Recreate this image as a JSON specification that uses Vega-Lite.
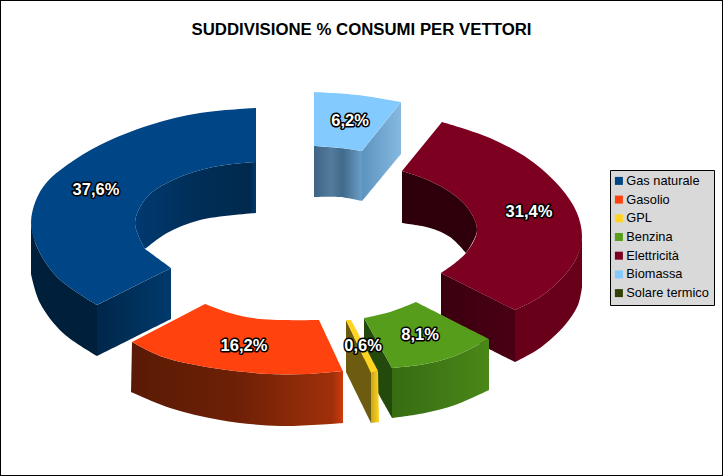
{"$schema":"https://vega.github.io/schema/vega-lite/v6.json","width":723,"height":476,"autosize":{"type":"none"},"padding":0,"background":"#ffffff","title":{"text":"SUDDIVISIONE % CONSUMI PER VETTORI","orient":"top","anchor":"middle","offset":-39,"font":"Liberation Sans","fontSize":16.8,"fontWeight":"bold","color":"#000000"},"config":{"view":{"stroke":"#000000","strokeWidth":2}},"datasets":{"outline":[
{"p":"a_in","i":1,"x":314,"y":146},{"p":"a_in","i":2,"x":314,"y":146},{"p":"a_in","i":3,"x":340,"y":148},{"p":"a_in","i":4,"x":362,"y":151},{"p":"a_in","i":5,"x":362,"y":151},{"p":"a_in","i":6,"x":362,"y":201},{"p":"a_in","i":7,"x":362,"y":201},{"p":"a_in","i":8,"x":340,"y":197},{"p":"a_in","i":9,"x":314,"y":197},{"p":"a_in","i":10,"x":314,"y":197},
{"p":"a_cut","i":1,"x":401,"y":102},{"p":"a_cut","i":2,"x":401,"y":102},{"p":"a_cut","i":3,"x":362,"y":151},{"p":"a_cut","i":4,"x":362,"y":151},{"p":"a_cut","i":5,"x":362,"y":201},{"p":"a_cut","i":6,"x":362,"y":201},{"p":"a_cut","i":7,"x":401,"y":154},{"p":"a_cut","i":8,"x":401,"y":154},
{"p":"a_top","i":1,"x":314,"y":92},{"p":"a_top","i":2,"x":314,"y":92},{"p":"a_top","i":3,"x":357,"y":95},{"p":"a_top","i":4,"x":401,"y":102},{"p":"a_top","i":5,"x":401,"y":102},{"p":"a_top","i":6,"x":362,"y":151},{"p":"a_top","i":7,"x":362,"y":151},{"p":"a_top","i":8,"x":340,"y":148},{"p":"a_top","i":9,"x":314,"y":146},{"p":"a_top","i":10,"x":314,"y":146},
{"p":"w_in","i":1,"x":402,"y":171},{"p":"w_in","i":2,"x":402,"y":171},{"p":"w_in","i":3,"x":423,"y":178},{"p":"w_in","i":4,"x":447,"y":190},{"p":"w_in","i":5,"x":467,"y":207},{"p":"w_in","i":6,"x":477,"y":230},{"p":"w_in","i":7,"x":466,"y":253},{"p":"w_in","i":8,"x":466,"y":253},{"p":"w_in","i":9,"x":450,"y":237},{"p":"w_in","i":10,"x":430,"y":228},{"p":"w_in","i":11,"x":402,"y":223},{"p":"w_in","i":12,"x":402,"y":223},
{"p":"w_out","i":1,"x":582,"y":237},{"p":"w_out","i":2,"x":582,"y":237},{"p":"w_out","i":3,"x":577,"y":257},{"p":"w_out","i":4,"x":563,"y":277},{"p":"w_out","i":5,"x":540,"y":297},{"p":"w_out","i":6,"x":515,"y":310},{"p":"w_out","i":7,"x":515,"y":310},{"p":"w_out","i":8,"x":515,"y":362},{"p":"w_out","i":9,"x":515,"y":362},{"p":"w_out","i":10,"x":540,"y":348},{"p":"w_out","i":11,"x":565,"y":325},{"p":"w_out","i":12,"x":578,"y":305},{"p":"w_out","i":13,"x":582,"y":287},{"p":"w_out","i":14,"x":582,"y":287},
{"p":"w_cut","i":1,"x":441,"y":273},{"p":"w_cut","i":2,"x":441,"y":273},{"p":"w_cut","i":3,"x":515,"y":310},{"p":"w_cut","i":4,"x":515,"y":310},{"p":"w_cut","i":5,"x":515,"y":362},{"p":"w_cut","i":6,"x":515,"y":362},{"p":"w_cut","i":7,"x":441,"y":325},{"p":"w_cut","i":8,"x":441,"y":325},
{"p":"w_top","i":1,"x":442,"y":122},{"p":"w_top","i":2,"x":442,"y":122},{"p":"w_top","i":3,"x":490,"y":138},{"p":"w_top","i":4,"x":530,"y":160},{"p":"w_top","i":5,"x":560,"y":187},{"p":"w_top","i":6,"x":577,"y":213},{"p":"w_top","i":7,"x":582,"y":237},{"p":"w_top","i":8,"x":577,"y":257},{"p":"w_top","i":9,"x":563,"y":277},{"p":"w_top","i":10,"x":540,"y":297},{"p":"w_top","i":11,"x":515,"y":310},{"p":"w_top","i":12,"x":515,"y":310},{"p":"w_top","i":13,"x":441,"y":273},{"p":"w_top","i":14,"x":441,"y":273},{"p":"w_top","i":15,"x":466,"y":253},{"p":"w_top","i":16,"x":477,"y":230},{"p":"w_top","i":17,"x":467,"y":207},{"p":"w_top","i":18,"x":447,"y":190},{"p":"w_top","i":19,"x":423,"y":178},{"p":"w_top","i":20,"x":402,"y":171},{"p":"w_top","i":21,"x":402,"y":171},
{"p":"b_in","i":1,"x":256,"y":162},{"p":"b_in","i":2,"x":256,"y":162},{"p":"b_in","i":3,"x":213,"y":167},{"p":"b_in","i":4,"x":173,"y":180},{"p":"b_in","i":5,"x":147,"y":197},{"p":"b_in","i":6,"x":135,"y":223},{"p":"b_in","i":7,"x":145,"y":249},{"p":"b_in","i":8,"x":145,"y":249},{"p":"b_in","i":9,"x":167,"y":233},{"p":"b_in","i":10,"x":200,"y":220},{"p":"b_in","i":11,"x":256,"y":213},{"p":"b_in","i":12,"x":256,"y":213},
{"p":"b_out","i":1,"x":31,"y":223},{"p":"b_out","i":2,"x":31,"y":223},{"p":"b_out","i":3,"x":37,"y":247},{"p":"b_out","i":4,"x":57,"y":277},{"p":"b_out","i":5,"x":97,"y":305},{"p":"b_out","i":6,"x":97,"y":305},{"p":"b_out","i":7,"x":97,"y":356},{"p":"b_out","i":8,"x":97,"y":356},{"p":"b_out","i":9,"x":63,"y":333},{"p":"b_out","i":10,"x":40,"y":303},{"p":"b_out","i":11,"x":31,"y":274},{"p":"b_out","i":12,"x":31,"y":274},
{"p":"b_cut","i":1,"x":97,"y":305},{"p":"b_cut","i":2,"x":97,"y":305},{"p":"b_cut","i":3,"x":171,"y":268},{"p":"b_cut","i":4,"x":171,"y":268},{"p":"b_cut","i":5,"x":171,"y":319},{"p":"b_cut","i":6,"x":171,"y":319},{"p":"b_cut","i":7,"x":97,"y":356},{"p":"b_cut","i":8,"x":97,"y":356},
{"p":"b_top","i":1,"x":256,"y":108},{"p":"b_top","i":2,"x":256,"y":108},{"p":"b_top","i":3,"x":200,"y":113},{"p":"b_top","i":4,"x":150,"y":125},{"p":"b_top","i":5,"x":100,"y":145},{"p":"b_top","i":6,"x":67,"y":165},{"p":"b_top","i":7,"x":47,"y":182},{"p":"b_top","i":8,"x":36,"y":200},{"p":"b_top","i":9,"x":31,"y":223},{"p":"b_top","i":10,"x":37,"y":247},{"p":"b_top","i":11,"x":57,"y":277},{"p":"b_top","i":12,"x":97,"y":305},{"p":"b_top","i":13,"x":97,"y":305},{"p":"b_top","i":14,"x":171,"y":268},{"p":"b_top","i":15,"x":171,"y":268},{"p":"b_top","i":16,"x":145,"y":249},{"p":"b_top","i":17,"x":145,"y":249},{"p":"b_top","i":18,"x":135,"y":223},{"p":"b_top","i":19,"x":147,"y":197},{"p":"b_top","i":20,"x":173,"y":180},{"p":"b_top","i":21,"x":213,"y":167},{"p":"b_top","i":22,"x":256,"y":162},{"p":"b_top","i":23,"x":256,"y":162},
{"p":"o_out","i":1,"x":132,"y":342},{"p":"o_out","i":2,"x":132,"y":342},{"p":"o_out","i":3,"x":163,"y":357},{"p":"o_out","i":4,"x":213,"y":368},{"p":"o_out","i":5,"x":270,"y":374},{"p":"o_out","i":6,"x":307,"y":374},{"p":"o_out","i":7,"x":343,"y":371},{"p":"o_out","i":8,"x":343,"y":371},{"p":"o_out","i":9,"x":343,"y":423},{"p":"o_out","i":10,"x":343,"y":423},{"p":"o_out","i":11,"x":280,"y":426},{"p":"o_out","i":12,"x":220,"y":420},{"p":"o_out","i":13,"x":170,"y":408},{"p":"o_out","i":14,"x":131,"y":392},{"p":"o_out","i":15,"x":131,"y":392},
{"p":"o_top","i":1,"x":205,"y":304},{"p":"o_top","i":2,"x":205,"y":304},{"p":"o_top","i":3,"x":230,"y":313},{"p":"o_top","i":4,"x":260,"y":319},{"p":"o_top","i":5,"x":319,"y":320},{"p":"o_top","i":6,"x":319,"y":320},{"p":"o_top","i":7,"x":343,"y":371},{"p":"o_top","i":8,"x":343,"y":371},{"p":"o_top","i":9,"x":307,"y":374},{"p":"o_top","i":10,"x":270,"y":374},{"p":"o_top","i":11,"x":213,"y":368},{"p":"o_top","i":12,"x":163,"y":357},{"p":"o_top","i":13,"x":132,"y":342},{"p":"o_top","i":14,"x":132,"y":342},
{"p":"g_left","i":1,"x":364,"y":318},{"p":"g_left","i":2,"x":364,"y":318},{"p":"g_left","i":3,"x":392,"y":368},{"p":"g_left","i":4,"x":392,"y":368},{"p":"g_left","i":5,"x":392,"y":418},{"p":"g_left","i":6,"x":392,"y":418},{"p":"g_left","i":7,"x":364,"y":368},{"p":"g_left","i":8,"x":364,"y":368},
{"p":"g_out","i":1,"x":392,"y":368},{"p":"g_out","i":2,"x":392,"y":368},{"p":"g_out","i":3,"x":425,"y":364},{"p":"g_out","i":4,"x":455,"y":356},{"p":"g_out","i":5,"x":489,"y":339},{"p":"g_out","i":6,"x":489,"y":339},{"p":"g_out","i":7,"x":489,"y":390},{"p":"g_out","i":8,"x":489,"y":390},{"p":"g_out","i":9,"x":455,"y":405},{"p":"g_out","i":10,"x":425,"y":413},{"p":"g_out","i":11,"x":392,"y":418},{"p":"g_out","i":12,"x":392,"y":418},
{"p":"g_top","i":1,"x":364,"y":318},{"p":"g_top","i":2,"x":364,"y":318},{"p":"g_top","i":3,"x":390,"y":312},{"p":"g_top","i":4,"x":416,"y":302},{"p":"g_top","i":5,"x":416,"y":302},{"p":"g_top","i":6,"x":489,"y":339},{"p":"g_top","i":7,"x":489,"y":339},{"p":"g_top","i":8,"x":455,"y":356},{"p":"g_top","i":9,"x":425,"y":364},{"p":"g_top","i":10,"x":392,"y":368},{"p":"g_top","i":11,"x":392,"y":368},
{"p":"y_left","i":1,"x":346,"y":320},{"p":"y_left","i":2,"x":346,"y":320},{"p":"y_left","i":3,"x":371,"y":373},{"p":"y_left","i":4,"x":371,"y":373},{"p":"y_left","i":5,"x":371,"y":423},{"p":"y_left","i":6,"x":371,"y":423},{"p":"y_left","i":7,"x":346,"y":372},{"p":"y_left","i":8,"x":346,"y":372},
{"p":"y_right","i":1,"x":371,"y":373},{"p":"y_right","i":2,"x":371,"y":373},{"p":"y_right","i":3,"x":378,"y":371},{"p":"y_right","i":4,"x":378,"y":371},{"p":"y_right","i":5,"x":379,"y":422},{"p":"y_right","i":6,"x":379,"y":422},{"p":"y_right","i":7,"x":371,"y":423},{"p":"y_right","i":8,"x":371,"y":423},
{"p":"y_top","i":1,"x":346,"y":320},{"p":"y_top","i":2,"x":346,"y":320},{"p":"y_top","i":3,"x":351,"y":320},{"p":"y_top","i":4,"x":351,"y":320},{"p":"y_top","i":5,"x":378,"y":371},{"p":"y_top","i":6,"x":378,"y":371},{"p":"y_top","i":7,"x":371,"y":373},{"p":"y_top","i":8,"x":371,"y":373}
],"slices":[
{"vettore":"Gas naturale","quota":37.6,"label":"37,6%","lx":96,"ly":190},
{"vettore":"Gasolio","quota":16.2,"label":"16,2%","lx":244,"ly":346},
{"vettore":"GPL","quota":0.6,"label":"0,6%","lx":363,"ly":346},
{"vettore":"Benzina","quota":8.1,"label":"8,1%","lx":420,"ly":335},
{"vettore":"Elettricità","quota":31.4,"label":"31,4%","lx":529,"ly":212},
{"vettore":"Biomassa","quota":6.2,"label":"6,2%","lx":350,"ly":121},
{"vettore":"Solare termico","quota":0}
]},
"layer":[
{"data":{"name":"outline"},"mark":{"type":"line","interpolate":"catmull-rom","strokeWidth":0,"stroke":null},
"encoding":{"x":{"field":"x","type":"quantitative","scale":{"domain":[0,723],"nice":false,"zero":false},"axis":null},
"y":{"field":"y","type":"quantitative","scale":{"domain":[476,0],"nice":false,"zero":false},"axis":null},
"order":{"field":"i","type":"quantitative"},
"detail":{"field":"p","type":"nominal"},
"fill":{"condition":[
{"test":"datum.p==='a_in'","value":{"gradient":"linear","x1":0,"y1":0,"x2":1,"y2":0,"stops":[{"offset":0,"color":"#3e6484"},{"offset":0.35,"color":"#527b9c"},{"offset":0.6,"color":"#416a8b"},{"offset":1,"color":"#6a9ec8"}]}},
{"test":"datum.p==='a_cut'","value":{"gradient":"linear","x1":0,"y1":0,"x2":1,"y2":0,"stops":[{"offset":0,"color":"#5c93bf"},{"offset":1,"color":"#85b9e0"}]}},
{"test":"datum.p==='a_top'","value":"#83caff"},
{"test":"datum.p==='w_in'","value":"#2e000c"},
{"test":"datum.p==='w_out'","value":"#680019"},
{"test":"datum.p==='w_cut'","value":{"gradient":"linear","x1":0,"y1":0,"x2":1,"y2":0,"stops":[{"offset":0,"color":"#3a000f"},{"offset":1,"color":"#4a0014"}]}},
{"test":"datum.p==='w_top'","value":"#7e0021"},
{"test":"datum.p==='b_in'","value":{"gradient":"linear","x1":0,"y1":0,"x2":1,"y2":0,"stops":[{"offset":0,"color":"#003a70"},{"offset":0.5,"color":"#002e58"},{"offset":0.95,"color":"#01294d"},{"offset":1,"color":"#003a6e"}]}},
{"test":"datum.p==='b_out'","value":"#001f3b"},
{"test":"datum.p==='b_cut'","value":{"gradient":"linear","x1":0,"y1":0,"x2":1,"y2":0,"stops":[{"offset":0,"color":"#00264a"},{"offset":1,"color":"#003a6c"}]}},
{"test":"datum.p==='b_top'","value":"#004586"},
{"test":"datum.p==='o_out'","value":{"gradient":"linear","x1":0,"y1":0,"x2":1,"y2":0,"stops":[{"offset":0,"color":"#5a1a05"},{"offset":0.5,"color":"#6e2006"},{"offset":0.95,"color":"#a0300a"},{"offset":1,"color":"#d03a0c"}]}},
{"test":"datum.p==='o_top'","value":"#ff420e"},
{"test":"datum.p==='g_left'","value":"#234a0c"},
{"test":"datum.p==='g_out'","value":{"gradient":"linear","x1":0,"y1":0,"x2":1,"y2":0,"stops":[{"offset":0,"color":"#376c13"},{"offset":1,"color":"#4a8718"}]}},
{"test":"datum.p==='g_top'","value":"#579d1c"},
{"test":"datum.p==='y_left'","value":"#6d5c10"},
{"test":"datum.p==='y_right'","value":{"gradient":"linear","x1":0,"y1":0,"x2":1,"y2":0,"stops":[{"offset":0,"color":"#c9a51a"},{"offset":1,"color":"#ffd320"}]}}
],"value":"#ffd320"}}},
{"data":{"name":"slices"},"mark":{"type":"square","opacity":0,"size":1},
"encoding":{"color":{"field":"vettore","type":"nominal","sort":null,"scale":{"domain":["Gas naturale","Gasolio","GPL","Benzina","Elettricità","Biomassa","Solare termico"],"range":["#004586","#ff420e","#ffd320","#579d1c","#7e0021","#83caff","#314004"]},
"legend":{"title":null,"orient":"none","legendX":610,"legendY":170,"symbolType":"square","symbolSize":64,"symbolOpacity":1,"symbolStrokeWidth":0,"symbolOffset":-2,"labelFont":"Liberation Sans","labelFontSize":12.8,"labelColor":"#000000","labelOffset":1,"rowPadding":4.7,"padding":4.5,"fillColor":"#d9d9d9","strokeColor":"#000000","labelLimit":120}}}},
{"data":{"name":"slices"},"transform":[{"filter":"datum.quota > 0"}],"mark":{"type":"text","font":"Liberation Sans","fontSize":16.5,"fontWeight":"bold","stroke":"#000000","strokeWidth":3,"strokeJoin":"round","fill":"#000000","baseline":"middle","align":"center"},
"encoding":{"x":{"field":"lx","type":"quantitative"},"y":{"field":"ly","type":"quantitative"},"text":{"field":"label"}}},
{"data":{"name":"slices"},"transform":[{"filter":"datum.quota > 0"}],"mark":{"type":"text","font":"Liberation Sans","fontSize":16.5,"fontWeight":"bold","fill":"#ffffff","baseline":"middle","align":"center"},
"encoding":{"x":{"field":"lx","type":"quantitative"},"y":{"field":"ly","type":"quantitative"},"text":{"field":"label"}}}
]}
